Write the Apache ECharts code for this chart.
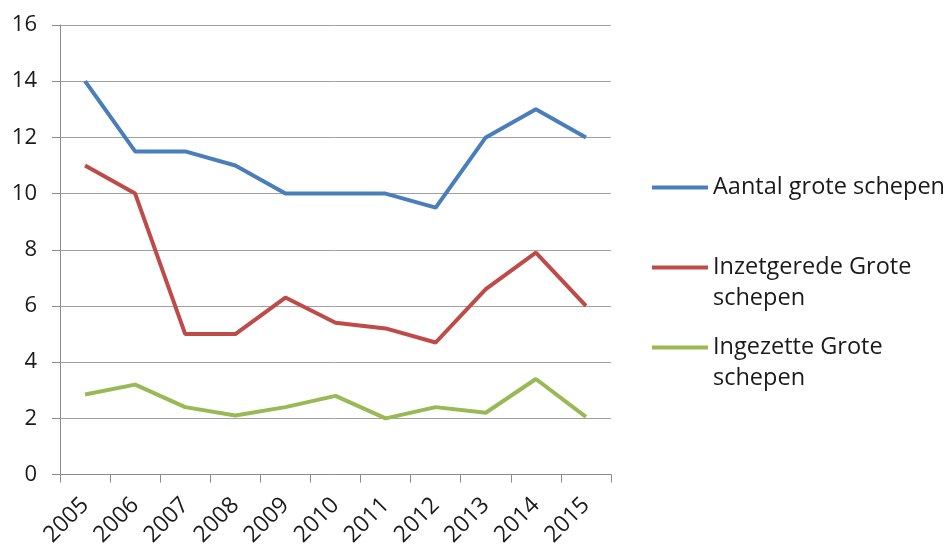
<!DOCTYPE html>
<html>
<head>
<meta charset="utf-8">
<script src="https://cdn.jsdelivr.net/npm/echarts@6/dist/echarts.min.js"></script>
<style>html,body{margin:0;padding:0;background:#fff;}#c{width:950px;height:549px;}</style>
</head>
<body>
<div id="c"></div>
<script>
var years = ['2005','2006','2007','2008','2009','2010','2011','2012','2013','2014','2015'];
var aantal = [14, 11.5, 11.5, 11, 10, 10, 10, 9.5, 12, 13, 12];
var inzetgerede = [11, 10, 5, 5, 6.3, 5.4, 5.2, 4.7, 6.6, 7.9, 6];
var ingezette = [2.85, 3.2, 2.4, 2.1, 2.4, 2.8, 2.0, 2.4, 2.2, 3.4, 2.05];
var names = ['Aantal grote schepen', 'Inzetgerede Grote schepen', 'Ingezette Grote schepen'];
var legendLabels = ['Aantal grote schepen', ' \nInzetgerede Grote\nschepen', ' \nIngezette Grote\nschepen'];
var colors = ['#4A7EBB', '#BE4B48', '#98B954'];
var font = 'Open Sans';

var chart = echarts.init(document.getElementById('c'));
function mkLegend(i, top) {
  return {
    data: [names[i]], orient: 'vertical', left: 652, top: top, padding: 0,
    icon: 'rect', itemWidth: 56, itemHeight: 4, itemGap: 0,
    formatter: function () { return legendLabels[i]; },
    textStyle: { fontFamily: font, fontSize: 23.5, color: '#1a1a1a', lineHeight: 31 },
    selectedMode: false
  };
}
chart.setOption({
  animation: false,
  color: colors,
  grid: { left: 60, right: 339, top: 25, bottom: 73, containLabel: false },
  legend: [mkLegend(0, 172), mkLegend(1, 221), mkLegend(2, 301)],
  xAxis: {
    type: 'category', data: years, boundaryGap: true,
    axisLine: { lineStyle: { color: '#8C8C8C', width: 1 } },
    axisTick: { show: true, length: 8, alignWithLabel: false, lineStyle: { color: '#8C8C8C' } },
    axisLabel: { rotate: 45, fontFamily: font, fontSize: 23, color: '#1a1a1a', margin: 27, interval: 0 }
  },
  yAxis: {
    type: 'value', min: 0, max: 16, interval: 2,
    axisLine: { show: true, lineStyle: { color: '#8C8C8C', width: 1 } },
    axisTick: { show: true, length: 8, lineStyle: { color: '#8C8C8C' } },
    axisLabel: { fontFamily: font, fontSize: 22, color: '#1a1a1a', margin: 23 },
    splitLine: { lineStyle: { color: '#A0A0A0', width: 1 } }
  },
  series: [
    { name: names[0], type: 'line', data: aantal, symbol: 'none', lineStyle: { width: 4 } },
    { name: names[1], type: 'line', data: inzetgerede, symbol: 'none', lineStyle: { width: 4 } },
    { name: names[2], type: 'line', data: ingezette, symbol: 'none', lineStyle: { width: 4 } }
  ]
});
</script>
</body>
</html>
